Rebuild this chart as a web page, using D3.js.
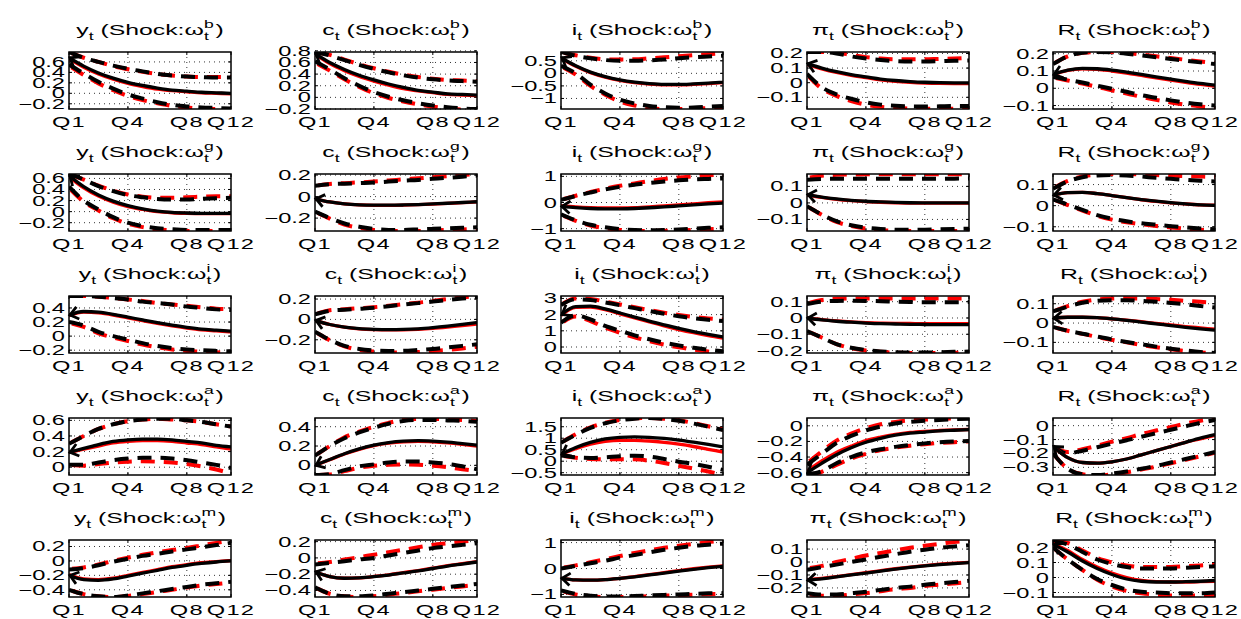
<!DOCTYPE html>
<html><head><meta charset="utf-8">
<script src="https://cdn.jsdelivr.net/npm/d3@7"></script>
<style>body{margin:0;background:#fff}svg text{font-family:"Liberation Sans",Arial,sans-serif;fill:#000;white-space:pre}</style>
</head><body><svg id="chart" width="1241" height="619"></svg>
<script>
const quarters = [1,2,3,4,5,6,7,8,9,10,11,12];
const xTickValues = [1,5,9,12];
const xTickLabels = ["Q1","Q4","Q8","Q12"];
const variables = ["y","c","i","π","R"];
const shocks = ["b","g","i","a","m"];

// panel order: row = shock, column = variable
const yDomains = [
  [-0.30,0.79],[-0.20,0.78],[-1.42,0.85],[-0.18,0.21],[-0.12,0.21],
  [-0.35,0.68],[-0.32,0.21],[-1.09,1.09],[-0.17,0.175],[-0.12,0.15],
  [-0.24,0.57],[-0.33,0.23],[-0.37,3.15],[-0.215,0.135],[-0.155,0.14],
  [-0.10,0.63],[-0.10,0.49],[-0.60,1.88],[-0.63,0.10],[-0.355,0.055],
  [-0.50,0.29],[-0.48,0.22],[-1.10,1.10],[-0.27,0.17],[-0.13,0.25]
];
const yTicks = [
  [-0.2,0,0.2,0.4,0.6],[-0.2,0,0.2,0.4,0.6,0.8],[-1,-0.5,0,0.5],[-0.1,0,0.1,0.2],[-0.1,0,0.1,0.2],
  [-0.2,0,0.2,0.4,0.6],[-0.2,0,0.2],[-1,0,1],[-0.1,0,0.1],[-0.1,0,0.1],
  [-0.2,0,0.2,0.4],[-0.2,0,0.2],[0,1,2,3],[-0.2,-0.1,0,0.1],[-0.1,0,0.1],
  [0,0.2,0.4,0.6],[0,0.2,0.4],[-0.5,0,0.5,1,1.5],[-0.6,-0.4,-0.2,0],[-0.3,-0.2,-0.1,0],
  [-0.4,-0.2,0,0.2],[-0.4,-0.2,0,0.2],[-1,0,1],[-0.2,-0.1,0,0.1],[-0.1,0,0.1,0.2]
];

const medianBlack = [
  [0.68,0.52,0.39,0.29,0.21,0.15,0.10,0.06,0.04,0.02,0.01,0.0],
  [0.75,0.60,0.48,0.38,0.30,0.23,0.17,0.12,0.09,0.06,0.05,0.04],
  [0.62,0.30,0.05,-0.13,-0.26,-0.35,-0.41,-0.44,-0.44,-0.42,-0.39,-0.35],
  [0.13,0.10,0.075,0.055,0.04,0.025,0.015,0.008,0.003,0.0,-0.001,-0.001],
  [0.08,0.105,0.115,0.113,0.105,0.093,0.08,0.066,0.053,0.04,0.028,0.018],
  [0.65,0.45,0.30,0.19,0.11,0.05,0.01,-0.015,-0.025,-0.03,-0.03,-0.03],
  [-0.02,-0.05,-0.068,-0.077,-0.08,-0.08,-0.078,-0.074,-0.068,-0.062,-0.055,-0.048],
  [-0.15,-0.20,-0.23,-0.24,-0.24,-0.23,-0.20,-0.17,-0.13,-0.09,-0.05,-0.02],
  [0.05,0.035,0.024,0.016,0.01,0.006,0.003,0.001,0.0,0.0,0.0,0.0],
  [0.05,0.062,0.063,0.057,0.048,0.038,0.029,0.021,0.014,0.008,0.004,0.001],
  [0.30,0.35,0.34,0.31,0.27,0.23,0.19,0.155,0.125,0.10,0.085,0.07],
  [-0.01,-0.05,-0.075,-0.09,-0.097,-0.10,-0.098,-0.092,-0.08,-0.065,-0.048,-0.03],
  [2.0,2.5,2.52,2.35,2.1,1.85,1.6,1.37,1.15,0.95,0.78,0.62],
  [0.0,-0.012,-0.02,-0.026,-0.031,-0.035,-0.037,-0.039,-0.04,-0.041,-0.041,-0.041],
  [0.025,0.03,0.03,0.028,0.022,0.014,0.005,-0.004,-0.013,-0.022,-0.03,-0.037],
  [0.19,0.24,0.29,0.33,0.35,0.36,0.36,0.35,0.33,0.31,0.28,0.26],
  [0.0,0.06,0.12,0.17,0.21,0.235,0.25,0.255,0.25,0.24,0.225,0.21],
  [0.30,0.60,0.82,0.97,1.04,1.06,1.04,0.99,0.92,0.83,0.73,0.62],
  [-0.60,-0.48,-0.37,-0.28,-0.21,-0.16,-0.12,-0.095,-0.08,-0.065,-0.057,-0.05],
  [-0.15,-0.23,-0.265,-0.27,-0.26,-0.24,-0.21,-0.18,-0.15,-0.12,-0.09,-0.065],
  [-0.20,-0.26,-0.27,-0.25,-0.21,-0.17,-0.13,-0.09,-0.06,-0.035,-0.015,0.0],
  [-0.17,-0.23,-0.25,-0.245,-0.23,-0.21,-0.185,-0.16,-0.13,-0.10,-0.075,-0.05],
  [-0.38,-0.44,-0.45,-0.43,-0.38,-0.32,-0.25,-0.18,-0.10,-0.03,0.03,0.08],
  [-0.14,-0.13,-0.115,-0.10,-0.085,-0.07,-0.055,-0.042,-0.03,-0.02,-0.012,-0.005],
  [0.22,0.17,0.11,0.06,0.02,-0.01,-0.025,-0.03,-0.03,-0.028,-0.025,-0.02]
];
const medianRed = [
  [0.66,0.50,0.37,0.27,0.19,0.13,0.08,0.05,0.03,0.01,0.0,-0.01],
  [0.74,0.58,0.46,0.36,0.28,0.21,0.15,0.11,0.08,0.05,0.04,0.03],
  [0.60,0.28,0.03,-0.15,-0.28,-0.37,-0.43,-0.46,-0.46,-0.44,-0.41,-0.37],
  [0.125,0.095,0.07,0.05,0.035,0.02,0.01,0.003,-0.002,-0.005,-0.006,-0.006],
  [0.078,0.103,0.112,0.11,0.10,0.088,0.074,0.06,0.047,0.034,0.022,0.012],
  [0.63,0.43,0.28,0.17,0.09,0.04,0.0,-0.02,-0.03,-0.035,-0.035,-0.035],
  [-0.02,-0.05,-0.068,-0.077,-0.081,-0.081,-0.079,-0.075,-0.07,-0.064,-0.057,-0.05],
  [-0.12,-0.17,-0.20,-0.21,-0.21,-0.20,-0.17,-0.13,-0.09,-0.05,-0.01,0.02],
  [0.048,0.033,0.022,0.014,0.008,0.004,0.001,-0.001,-0.001,-0.001,-0.001,-0.001],
  [0.05,0.062,0.063,0.057,0.048,0.038,0.028,0.02,0.013,0.008,0.004,0.002],
  [0.29,0.34,0.33,0.30,0.26,0.22,0.18,0.145,0.115,0.09,0.075,0.06],
  [-0.01,-0.05,-0.076,-0.092,-0.10,-0.103,-0.102,-0.097,-0.088,-0.075,-0.06,-0.045],
  [1.95,2.45,2.47,2.3,2.05,1.8,1.55,1.3,1.08,0.88,0.70,0.55],
  [0.0,-0.01,-0.018,-0.024,-0.028,-0.031,-0.033,-0.034,-0.035,-0.035,-0.035,-0.035],
  [0.025,0.03,0.03,0.028,0.022,0.015,0.007,-0.002,-0.01,-0.018,-0.025,-0.032],
  [0.19,0.23,0.27,0.31,0.33,0.34,0.34,0.33,0.31,0.29,0.26,0.23],
  [0.0,0.058,0.117,0.166,0.205,0.23,0.244,0.248,0.243,0.232,0.217,0.20],
  [0.30,0.55,0.74,0.86,0.91,0.91,0.88,0.82,0.74,0.64,0.52,0.40],
  [-0.58,-0.45,-0.34,-0.26,-0.19,-0.145,-0.11,-0.085,-0.07,-0.06,-0.052,-0.047],
  [-0.15,-0.23,-0.265,-0.27,-0.26,-0.24,-0.21,-0.18,-0.15,-0.12,-0.095,-0.07],
  [-0.19,-0.25,-0.26,-0.24,-0.20,-0.16,-0.12,-0.08,-0.05,-0.025,-0.01,0.005],
  [-0.17,-0.23,-0.25,-0.245,-0.228,-0.207,-0.18,-0.155,-0.125,-0.095,-0.07,-0.045],
  [-0.38,-0.44,-0.45,-0.43,-0.38,-0.31,-0.24,-0.16,-0.08,-0.01,0.05,0.10],
  [-0.137,-0.127,-0.112,-0.097,-0.082,-0.067,-0.052,-0.039,-0.027,-0.017,-0.009,-0.002],
  [0.225,0.18,0.12,0.07,0.03,0.0,-0.02,-0.028,-0.03,-0.03,-0.028,-0.025]
];
const upperBlack = [
  [0.79,0.68,0.60,0.53,0.47,0.42,0.37,0.34,0.32,0.31,0.30,0.30],
  [0.78,0.72,0.64,0.56,0.49,0.43,0.38,0.34,0.31,0.29,0.28,0.27],
  [0.85,0.70,0.60,0.53,0.50,0.50,0.52,0.55,0.60,0.64,0.67,0.70],
  [0.21,0.21,0.20,0.18,0.165,0.155,0.148,0.145,0.145,0.147,0.15,0.152],
  [0.14,0.185,0.205,0.21,0.208,0.20,0.19,0.18,0.17,0.16,0.15,0.14],
  [0.68,0.58,0.46,0.37,0.30,0.26,0.23,0.22,0.22,0.23,0.24,0.25],
  [0.10,0.115,0.12,0.125,0.13,0.14,0.148,0.155,0.165,0.175,0.185,0.195],
  [0.10,0.25,0.38,0.50,0.60,0.68,0.75,0.80,0.85,0.88,0.90,0.92],
  [0.14,0.145,0.146,0.146,0.146,0.146,0.146,0.146,0.146,0.146,0.147,0.148],
  [0.08,0.115,0.135,0.143,0.145,0.143,0.138,0.132,0.127,0.122,0.118,0.115],
  [0.57,0.57,0.56,0.54,0.52,0.49,0.47,0.45,0.42,0.40,0.38,0.37],
  [0.05,0.085,0.095,0.105,0.115,0.13,0.145,0.16,0.175,0.19,0.205,0.22],
  [2.6,2.95,2.9,2.75,2.58,2.4,2.22,2.05,1.9,1.78,1.68,1.6],
  [0.085,0.10,0.105,0.106,0.105,0.103,0.10,0.098,0.097,0.097,0.097,0.098],
  [0.06,0.085,0.105,0.115,0.118,0.118,0.115,0.11,0.104,0.097,0.088,0.08],
  [0.30,0.40,0.49,0.55,0.59,0.61,0.62,0.62,0.60,0.58,0.55,0.52],
  [0.10,0.20,0.28,0.34,0.39,0.43,0.46,0.47,0.47,0.465,0.46,0.45],
  [0.80,1.15,1.45,1.65,1.78,1.85,1.88,1.84,1.76,1.64,1.50,1.36],
  [-0.50,-0.36,-0.22,-0.13,-0.06,-0.01,0.03,0.05,0.065,0.075,0.085,0.09],
  [-0.15,-0.20,-0.18,-0.155,-0.13,-0.105,-0.08,-0.055,-0.03,-0.005,0.02,0.04],
  [-0.12,-0.10,-0.06,-0.01,0.03,0.07,0.10,0.13,0.16,0.19,0.22,0.25],
  [-0.08,-0.06,-0.04,-0.02,0.0,0.03,0.06,0.09,0.12,0.14,0.16,0.18],
  [0.0,0.10,0.20,0.30,0.42,0.52,0.62,0.72,0.80,0.87,0.92,0.96],
  [-0.06,-0.04,-0.02,0.0,0.02,0.04,0.06,0.08,0.095,0.11,0.12,0.13],
  [0.24,0.22,0.17,0.12,0.09,0.07,0.06,0.06,0.06,0.065,0.07,0.075]
];
const lowerBlack = [
  [0.55,0.38,0.22,0.09,-0.02,-0.10,-0.17,-0.22,-0.25,-0.27,-0.28,-0.29],
  [0.62,0.48,0.33,0.20,0.09,0.01,-0.05,-0.10,-0.14,-0.17,-0.19,-0.20],
  [0.30,0.0,-0.45,-0.80,-1.05,-1.20,-1.30,-1.35,-1.37,-1.36,-1.33,-1.30],
  [0.06,-0.03,-0.08,-0.11,-0.135,-0.15,-0.158,-0.162,-0.163,-0.162,-0.16,-0.16],
  [0.065,0.05,0.033,0.015,-0.003,-0.02,-0.04,-0.055,-0.07,-0.083,-0.093,-0.10],
  [0.45,0.20,0.04,-0.10,-0.20,-0.26,-0.30,-0.32,-0.33,-0.33,-0.33,-0.33],
  [-0.14,-0.20,-0.25,-0.28,-0.30,-0.31,-0.31,-0.305,-0.30,-0.295,-0.29,-0.285],
  [-0.45,-0.68,-0.85,-0.95,-1.02,-1.05,-1.06,-1.05,-1.03,-1.00,-0.97,-0.95],
  [-0.02,-0.07,-0.11,-0.135,-0.15,-0.158,-0.162,-0.163,-0.162,-0.16,-0.158,-0.156],
  [0.03,0.005,-0.02,-0.045,-0.062,-0.074,-0.083,-0.09,-0.097,-0.103,-0.108,-0.112],
  [0.20,0.15,0.06,0.0,-0.05,-0.10,-0.14,-0.17,-0.19,-0.20,-0.21,-0.22],
  [-0.12,-0.20,-0.26,-0.29,-0.305,-0.31,-0.308,-0.30,-0.29,-0.275,-0.26,-0.245],
  [1.5,1.95,1.7,1.3,1.0,0.72,0.48,0.27,0.10,-0.05,-0.17,-0.27],
  [-0.08,-0.12,-0.16,-0.183,-0.197,-0.205,-0.21,-0.212,-0.212,-0.21,-0.208,-0.206],
  [-0.02,-0.04,-0.055,-0.07,-0.085,-0.098,-0.11,-0.122,-0.133,-0.142,-0.15,-0.155],
  [0.03,0.03,0.06,0.09,0.11,0.12,0.12,0.11,0.09,0.06,0.03,-0.01],
  [-0.10,-0.09,-0.05,-0.01,0.01,0.03,0.04,0.04,0.03,0.015,-0.01,-0.04],
  [0.25,0.17,0.14,0.17,0.22,0.24,0.20,0.10,-0.02,-0.12,-0.24,-0.38],
  [-0.63,-0.58,-0.48,-0.40,-0.34,-0.30,-0.27,-0.245,-0.225,-0.21,-0.20,-0.195],
  [-0.20,-0.31,-0.35,-0.355,-0.345,-0.33,-0.31,-0.29,-0.265,-0.24,-0.215,-0.19],
  [-0.40,-0.46,-0.49,-0.50,-0.48,-0.45,-0.42,-0.39,-0.36,-0.33,-0.31,-0.29],
  [-0.36,-0.44,-0.47,-0.47,-0.46,-0.44,-0.42,-0.40,-0.38,-0.36,-0.34,-0.32],
  [-0.85,-0.98,-1.05,-1.08,-1.08,-1.06,-1.04,-1.02,-1.00,-0.98,-0.96,-0.95],
  [-0.24,-0.25,-0.25,-0.24,-0.23,-0.215,-0.20,-0.19,-0.175,-0.165,-0.155,-0.145],
  [0.20,0.12,0.05,-0.01,-0.05,-0.08,-0.095,-0.10,-0.105,-0.105,-0.105,-0.10]
];
const upperRed = [
  [0.79,0.68,0.60,0.52,0.46,0.41,0.37,0.34,0.32,0.31,0.31,0.31],
  [0.78,0.73,0.65,0.57,0.50,0.44,0.39,0.35,0.32,0.30,0.29,0.28],
  [0.85,0.72,0.62,0.56,0.55,0.56,0.60,0.64,0.68,0.72,0.76,0.80],
  [0.21,0.21,0.205,0.19,0.175,0.165,0.16,0.16,0.16,0.163,0.165,0.17],
  [0.14,0.185,0.205,0.21,0.21,0.205,0.195,0.185,0.175,0.165,0.155,0.145],
  [0.68,0.58,0.47,0.38,0.31,0.27,0.25,0.25,0.26,0.27,0.28,0.28],
  [0.10,0.118,0.125,0.132,0.14,0.15,0.16,0.17,0.18,0.19,0.20,0.21],
  [0.10,0.26,0.40,0.53,0.64,0.73,0.82,0.90,0.96,1.00,1.04,1.07],
  [0.15,0.165,0.17,0.172,0.173,0.174,0.174,0.174,0.174,0.174,0.174,0.174],
  [0.08,0.117,0.138,0.147,0.15,0.15,0.148,0.145,0.142,0.14,0.138,0.136],
  [0.57,0.57,0.56,0.54,0.52,0.50,0.47,0.45,0.43,0.41,0.39,0.38],
  [0.05,0.09,0.10,0.11,0.12,0.135,0.15,0.165,0.18,0.20,0.215,0.23],
  [2.6,3.0,2.97,2.8,2.63,2.45,2.28,2.12,1.98,1.86,1.76,1.7],
  [0.09,0.11,0.118,0.12,0.12,0.12,0.12,0.12,0.12,0.12,0.12,0.12],
  [0.06,0.088,0.11,0.122,0.127,0.128,0.127,0.124,0.12,0.115,0.11,0.105],
  [0.30,0.40,0.49,0.55,0.59,0.61,0.62,0.61,0.60,0.58,0.55,0.52],
  [0.10,0.20,0.29,0.35,0.40,0.44,0.47,0.48,0.48,0.475,0.47,0.46],
  [0.80,1.17,1.47,1.67,1.80,1.87,1.88,1.85,1.78,1.66,1.52,1.38],
  [-0.48,-0.33,-0.19,-0.10,-0.03,0.02,0.05,0.07,0.08,0.09,0.095,0.10],
  [-0.15,-0.19,-0.17,-0.145,-0.115,-0.09,-0.06,-0.035,-0.01,0.015,0.035,0.055],
  [-0.11,-0.09,-0.05,0.0,0.045,0.085,0.12,0.15,0.18,0.215,0.25,0.28],
  [-0.07,-0.05,-0.02,0.01,0.04,0.07,0.10,0.13,0.16,0.18,0.20,0.22],
  [0.02,0.12,0.24,0.36,0.48,0.60,0.70,0.80,0.88,0.95,1.02,1.08],
  [-0.05,-0.03,0.0,0.025,0.05,0.07,0.09,0.11,0.125,0.14,0.155,0.165],
  [0.245,0.23,0.18,0.13,0.10,0.08,0.07,0.07,0.07,0.075,0.08,0.085]
];
const lowerRed = [
  [0.53,0.35,0.19,0.06,-0.05,-0.13,-0.19,-0.24,-0.27,-0.29,-0.30,-0.30],
  [0.60,0.46,0.31,0.18,0.07,-0.01,-0.07,-0.12,-0.16,-0.19,-0.21,-0.22],
  [0.28,-0.05,-0.50,-0.85,-1.12,-1.28,-1.38,-1.42,-1.42,-1.41,-1.38,-1.35],
  [0.055,-0.04,-0.09,-0.125,-0.15,-0.165,-0.172,-0.177,-0.178,-0.178,-0.178,-0.178],
  [0.062,0.045,0.027,0.008,-0.012,-0.03,-0.05,-0.067,-0.082,-0.095,-0.105,-0.115],
  [0.43,0.18,0.02,-0.12,-0.22,-0.28,-0.32,-0.34,-0.35,-0.35,-0.35,-0.35],
  [-0.14,-0.205,-0.26,-0.29,-0.31,-0.32,-0.32,-0.32,-0.315,-0.31,-0.305,-0.30],
  [-0.47,-0.70,-0.88,-0.98,-1.05,-1.08,-1.09,-1.08,-1.07,-1.05,-1.02,-1.00],
  [-0.02,-0.072,-0.115,-0.14,-0.156,-0.165,-0.169,-0.17,-0.17,-0.17,-0.17,-0.17],
  [0.03,0.003,-0.023,-0.048,-0.066,-0.079,-0.088,-0.096,-0.103,-0.109,-0.114,-0.118],
  [0.19,0.13,0.04,-0.02,-0.07,-0.12,-0.16,-0.19,-0.21,-0.22,-0.23,-0.24],
  [-0.12,-0.205,-0.265,-0.30,-0.315,-0.325,-0.325,-0.32,-0.31,-0.30,-0.285,-0.27],
  [1.45,1.88,1.6,1.2,0.88,0.6,0.36,0.15,-0.02,-0.16,-0.28,-0.37],
  [-0.08,-0.12,-0.16,-0.185,-0.20,-0.208,-0.213,-0.215,-0.215,-0.214,-0.213,-0.212],
  [-0.02,-0.04,-0.056,-0.072,-0.087,-0.10,-0.113,-0.125,-0.136,-0.145,-0.152,-0.157],
  [0.03,0.02,0.04,0.06,0.07,0.075,0.07,0.06,0.04,0.01,-0.03,-0.08],
  [-0.10,-0.095,-0.06,-0.025,-0.005,0.005,0.008,0.005,-0.005,-0.02,-0.04,-0.06],
  [0.25,0.15,0.10,0.08,0.08,0.08,0.02,-0.08,-0.20,-0.32,-0.45,-0.60],
  [-0.63,-0.59,-0.50,-0.42,-0.36,-0.31,-0.28,-0.255,-0.235,-0.22,-0.21,-0.20],
  [-0.20,-0.31,-0.35,-0.36,-0.35,-0.335,-0.315,-0.295,-0.27,-0.245,-0.22,-0.195],
  [-0.40,-0.46,-0.49,-0.50,-0.485,-0.46,-0.43,-0.40,-0.37,-0.34,-0.32,-0.30],
  [-0.36,-0.44,-0.47,-0.48,-0.47,-0.45,-0.43,-0.41,-0.39,-0.37,-0.35,-0.33],
  [-0.86,-1.00,-1.07,-1.10,-1.10,-1.09,-1.07,-1.05,-1.03,-1.01,-0.99,-0.98],
  [-0.245,-0.26,-0.26,-0.25,-0.24,-0.225,-0.21,-0.20,-0.185,-0.175,-0.165,-0.155],
  [0.20,0.12,0.05,-0.015,-0.06,-0.09,-0.105,-0.115,-0.12,-0.12,-0.12,-0.12]
];

const svg = d3.select("#chart");
const FS = 14.5, SX = 1.63;
const colLeft = 69, colStep = 246, plotW = 162;
const rowTop = 52, rowStep = 122, plotH = 57;
const fmt = v => (v < 0 ? "\u2212" : "") + String(Math.abs(+v.toFixed(3)));

function scaledText(g, x, y, str, anchor, spacing) {
  return g.append("text").attr("font-size", FS).text(str)
    .attr("text-anchor", anchor)
    .attr("letter-spacing", spacing || 0)
    .attr("transform", `translate(${x},${y}) scale(${SX},1)`);
}

function drawTitle(g, cx, baseline, v, s) {
  const grp = g.append("g");
  const inner = grp.append("g");
  let x = 0;
  const add = (str, size, dy) => {
    const t = inner.append("text").attr("x", x).attr("y", dy).attr("font-size", size).text(str);
    return t.node().getComputedTextLength();
  };
  x += add(v, 15.5, 0);
  x += add("t", 11, 5);
  x += add("\u00a0(Shock:\u03c9", 15.5, 0);
  const wSup = add(s, 11, -7.5);
  const wSub = add("t", 11, 5);
  x += Math.max(wSup, wSub) + 1;
  x += add(")", 15.5, 0);
  inner.attr("transform", `translate(${-x/2},0)`);
  grp.attr("transform", `translate(${cx},${baseline}) scale(1.6,1)`);
}

for (let r = 0; r < 5; r++) {
  for (let c = 0; c < 5; c++) {
    const k = r * 5 + c;
    const left = colLeft + c * colStep, top = rowTop + r * rowStep;
    const g = svg.append("g");
    const x = d3.scaleLinear().domain([quarters[0], quarters[quarters.length-1]]).range([left, left + plotW]);
    const y = d3.scaleLinear().domain(yDomains[k]).range([top + plotH, top]);

    // grid
    const grid = g.append("g").attr("stroke", "#000").attr("stroke-width", 0.8).attr("stroke-dasharray", "1,4");
    xTickValues.slice(1, -1).forEach(v => grid.append("line")
      .attr("x1", x(v)).attr("x2", x(v)).attr("y1", top).attr("y2", top + plotH));
    yTicks[k].forEach(v => grid.append("line")
      .attr("x1", left).attr("x2", left + plotW).attr("y1", y(v)).attr("y2", y(v)));

    // tick marks
    const tk = g.append("g").attr("stroke", "#000").attr("stroke-width", 1);
    xTickValues.forEach(v => {
      tk.append("line").attr("x1", x(v)).attr("x2", x(v)).attr("y1", top + plotH).attr("y2", top + plotH - 3);
      tk.append("line").attr("x1", x(v)).attr("x2", x(v)).attr("y1", top).attr("y2", top + 3);
    });
    yTicks[k].forEach(v => {
      tk.append("line").attr("x1", left).attr("x2", left + 3).attr("y1", y(v)).attr("y2", y(v));
      tk.append("line").attr("x1", left + plotW).attr("x2", left + plotW - 3).attr("y1", y(v)).attr("y2", y(v));
    });

    // lines
    const cid = "clip" + k;
    svg.append("clipPath").attr("id", cid).append("rect")
      .attr("x", left).attr("y", top).attr("width", plotW).attr("height", plotH);
    const lg = g.append("g").attr("clip-path", `url(#${cid})`);
    const line = d3.line().x((d, i) => x(quarters[i])).y(d => y(d)).curve(d3.curveMonotoneX);
    const draw = (data, color, w, dash, off) => lg.append("path").datum(data)
      .attr("d", line).attr("fill", "none").attr("stroke", color).attr("stroke-width", w)
      .attr("stroke-dasharray", dash).attr("stroke-dashoffset", off || 0).attr("stroke-linecap", "butt");
    draw(upperRed[k], "#ff0000", 4, "14,9", -3);
    draw(lowerRed[k], "#ff0000", 4, "14,9", -3);
    draw(upperBlack[k], "#000", 4, "14,9", 0);
    draw(lowerBlack[k], "#000", 4, "14,9", 0);
    draw(medianRed[k], "#ff0000", 3.3, null);
    draw(medianBlack[k], "#000", 3.3, null);

    // arrow head at start of black response
    const x0 = x(quarters[0]), y0 = y(medianBlack[k][0]);
    const x1 = x(quarters[1]), y1 = y(medianBlack[k][1]);
    const ang = Math.atan2(y1 - y0, x1 - x0);
    const L = 11, A = 0.6;
    const p1 = [x0 + L * Math.cos(ang + A), y0 + L * Math.sin(ang + A)];
    const p2 = [x0 + L * Math.cos(ang - A), y0 + L * Math.sin(ang - A)];
    g.append("path").attr("d", `M${p1[0]},${p1[1]}L${x0+1},${y0}L${p2[0]},${p2[1]}`)
      .attr("fill", "none").attr("stroke", "#000").attr("stroke-width", 2.8);

    // box
    g.append("rect").attr("x", left).attr("y", top).attr("width", plotW).attr("height", plotH)
      .attr("fill", "none").attr("stroke", "#000").attr("stroke-width", 1.5);

    // tick labels
    yTicks[k].forEach(v => scaledText(g, left - 4, y(v) + 5, fmt(v), "end", 0));
    xTickValues.forEach((v, i) => scaledText(g, x(v), top + plotH + 18, xTickLabels[i], "middle", 0.8));

    drawTitle(g, left + plotW / 2, top - 17, variables[c], shocks[r]);
  }
}
</script></body></html>
